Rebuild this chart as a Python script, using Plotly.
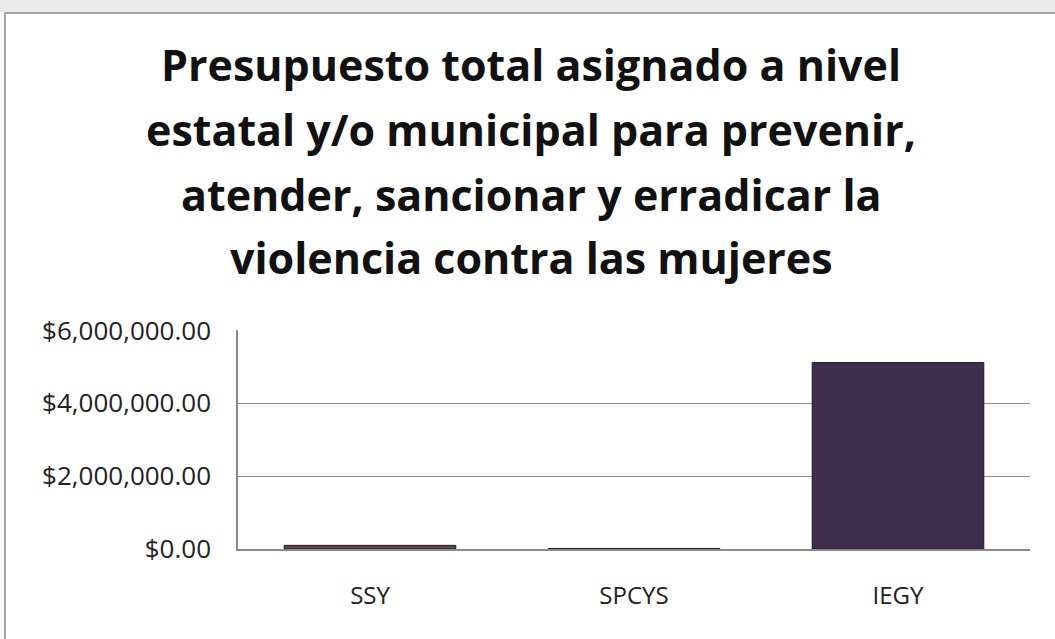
import plotly.graph_objects as go

categories = ["SSY", "SPCYS", "IEGY"]
values = [100000, 15000, 5120000]
bar_colors = ["#5a474f", "#48505a", "#3f2d4f"]
y_ticks = [0, 2000000, 4000000, 6000000]
y_tick_labels = ["$0.00", "$2,000,000.00", "$4,000,000.00", "$6,000,000.00"]
title_lines = [
    "Presupuesto total asignado a nivel",
    "estatal y/o municipal para prevenir,",
    "atender, sancionar y erradicar la",
    "violencia contra las mujeres",
]

W, H = 1055, 639
L, R, T, B = 238, 25, 330, 90
pw, ph = W - L - R, H - T - B

def px(x):
    return (x - L) / pw

def py(y):
    return (H - B - y) / ph

fig = go.Figure()
fig.add_trace(go.Bar(
    x=categories, y=values,
    marker=dict(color=bar_colors, line=dict(color="#1e1a22", width=1)),
    width=0.65,
))

shapes = [
    dict(type="rect", xref="paper", yref="paper", x0=px(-10), x1=px(1070), y0=py(-5), y1=py(12),
         fillcolor="#ebebeb", line=dict(width=0), layer="below"),
    dict(type="rect", xref="paper", yref="paper", x0=px(5), x1=px(1075), y0=py(13), y1=py(660),
         fillcolor="white", line=dict(color="#8a8a8a", width=1.5), layer="below"),
]

annotations = []
baselines = [84, 149, 214, 277]
for line, b in zip(title_lines, baselines):
    annotations.append(dict(
        text="<b>" + line + "</b>", xref="paper", yref="paper",
        x=px(531), y=py(b + 12), xanchor="center", yanchor="bottom",
        showarrow=False, font=dict(family="Open Sans", size=43, color="#111111"),
    ))

fig.update_layout(
    width=W, height=H,
    margin=dict(l=L, r=R, t=T, b=B),
    paper_bgcolor="#f7f7f7",
    plot_bgcolor="#fffff2",
    shapes=shapes,
    annotations=annotations,
    showlegend=False,
    bargap=0.35,
    xaxis=dict(
        showgrid=False, showline=True, linecolor="#8c8c8c", linewidth=1.5,
        tickfont=dict(family="Open Sans", size=24, color="#222222"),
        ticks="", ticklabelstandoff=24,
    ),
    yaxis=dict(
        range=[0, 6015000], tickvals=y_ticks, ticktext=y_tick_labels,
        showgrid=True, gridcolor="#8c8c8c", gridwidth=1,
        showline=True, linecolor="#8c8c8c", linewidth=1.5,
        zeroline=False,
        tickfont=dict(family="Open Sans", size=26, color="#222222"),
        ticks="", ticklabelstandoff=20,
    ),
)

fig.write_html(
    "out.html",
    config={"displayModeBar": False},
    post_script="document.body.style.margin='0';document.body.style.overflow='hidden';",
)
